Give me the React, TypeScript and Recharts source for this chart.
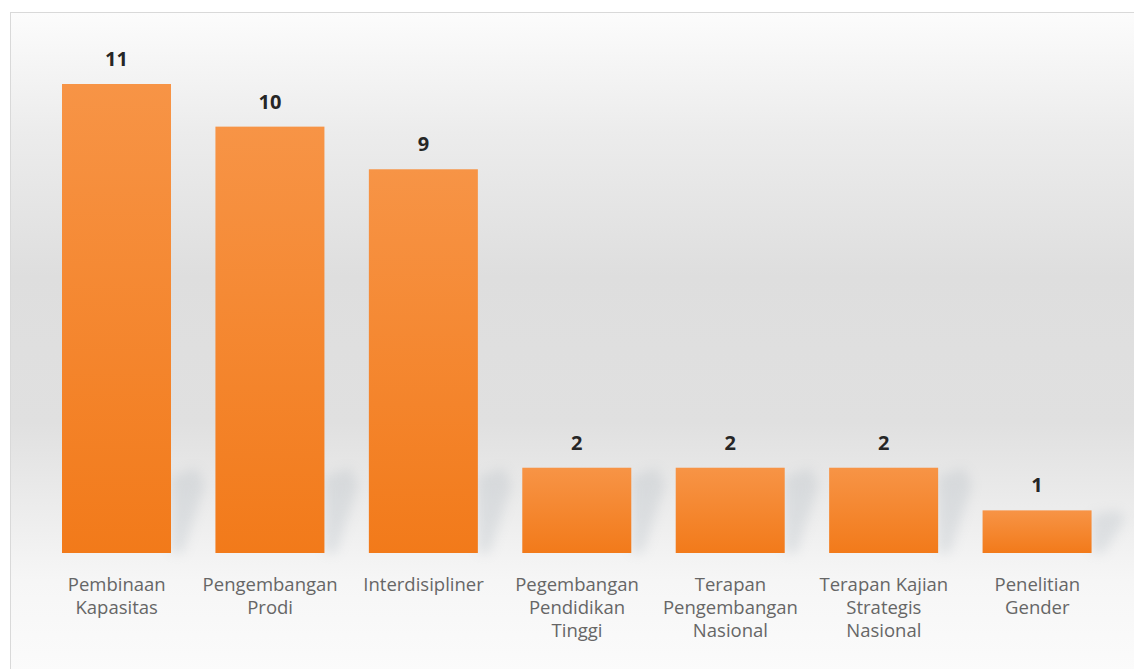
import React from "react";
import { BarChart, Bar, XAxis, YAxis, LabelList } from "recharts";

/* ── data ─────────────────────────────────────────────────────────────── */

const CATEGORIES = [
  "Pembinaan Kapasitas",
  "Pengembangan Prodi",
  "Interdisipliner",
  "Pegembangan Pendidikan Tinggi",
  "Terapan Pengembangan Nasional",
  "Terapan Kajian Strategis Nasional",
  "Penelitian Gender",
];

const JUMLAH = [11, 10, 9, 2, 2, 2, 1];

const data = CATEGORIES.map((name, i) => ({ name, value: JUMLAH[i] }));

const FONT = "'Open Sans', 'DejaVu Sans', sans-serif";

/* ── helpers ──────────────────────────────────────────────────────────── */

// greedy word wrap, roughly what Excel does in the band width
function wrap(text: string, max = 14): string[] {
  const lines: string[] = [];
  let cur = "";
  for (const w of text.split(" ")) {
    if (!cur) cur = w;
    else if ((cur + " " + w).length <= max) cur += " " + w;
    else {
      lines.push(cur);
      cur = w;
    }
  }
  if (cur) lines.push(cur);
  return lines;
}

function Tick(props: any) {
  const { x, y, payload } = props;
  const lines = wrap(String(payload.value));
  return (
    <text x={x} y={y} textAnchor="middle" fill="#666666" fontSize={18.5} fontFamily={FONT}>
      {lines.map((l, i) => (
        <tspan key={i} x={x} dy={i === 0 ? 30 : 23}>
          {l}
        </tspan>
      ))}
    </text>
  );
}

function ShadowBar(props: any) {
  const { x, y, width, height } = props;
  const bottom = y + height;
  const sh = Math.min(height, 85);
  return (
    <g>
      <polygon
        points={`${x + width},${bottom} ${x + width},${bottom - sh * 0.9} ${x + width + 26},${bottom - sh} ${x + width + 34},${bottom - sh * 0.8} ${x + width + 12},${bottom}`}
        fill="#9aa6b0"
        opacity={0.22}
        filter="url(#blurShadow)"
      />
      <rect x={x} y={y} width={width} height={height} fill="url(#barGrad)" />
    </g>
  );
}

/* ── chart ────────────────────────────────────────────────────────────── */

export default function App() {
  return (
    <div
      style={{
        marginLeft: 2,
        marginTop: 4,
        width: 1126,
        height: 660,
        border: "1px solid #d9d9d9",
        background:
          "linear-gradient(to bottom, #fcfcfc 0%, #ececec 18%, #dedede 40%, #e0e0e0 62%, #ececec 75%, #f6f6f6 86%, #fbfbfb 100%)",
      }}
    >
      <BarChart
        width={1126}
        height={660}
        data={data}
        margin={{ top: 71, right: 23, left: 29, bottom: 0 }}
        barSize={109}
      >
        <defs>
          <linearGradient id="barGrad" x1="0" y1="0" x2="0" y2="1">
            <stop offset="0%" stopColor="#f79446" />
            <stop offset="100%" stopColor="#f27a1a" />
          </linearGradient>
          <filter id="blurShadow" x="-50%" y="-50%" width="200%" height="200%">
            <feGaussianBlur stdDeviation="6" />
          </filter>
        </defs>
        <XAxis
          dataKey="name"
          axisLine={false}
          tickLine={false}
          interval={0}
          height={120}
          tick={<Tick />}
        />
        <YAxis hide domain={[0, 11]} />
        <Bar dataKey="value" isAnimationActive={false} shape={<ShadowBar />}>
          <LabelList
            dataKey="value"
            position="top"
            offset={18}
            fill="#262626"
            fontSize={20}
            fontWeight="bold"
            fontFamily={FONT}
          />
        </Bar>
      </BarChart>
    </div>
  );
}
